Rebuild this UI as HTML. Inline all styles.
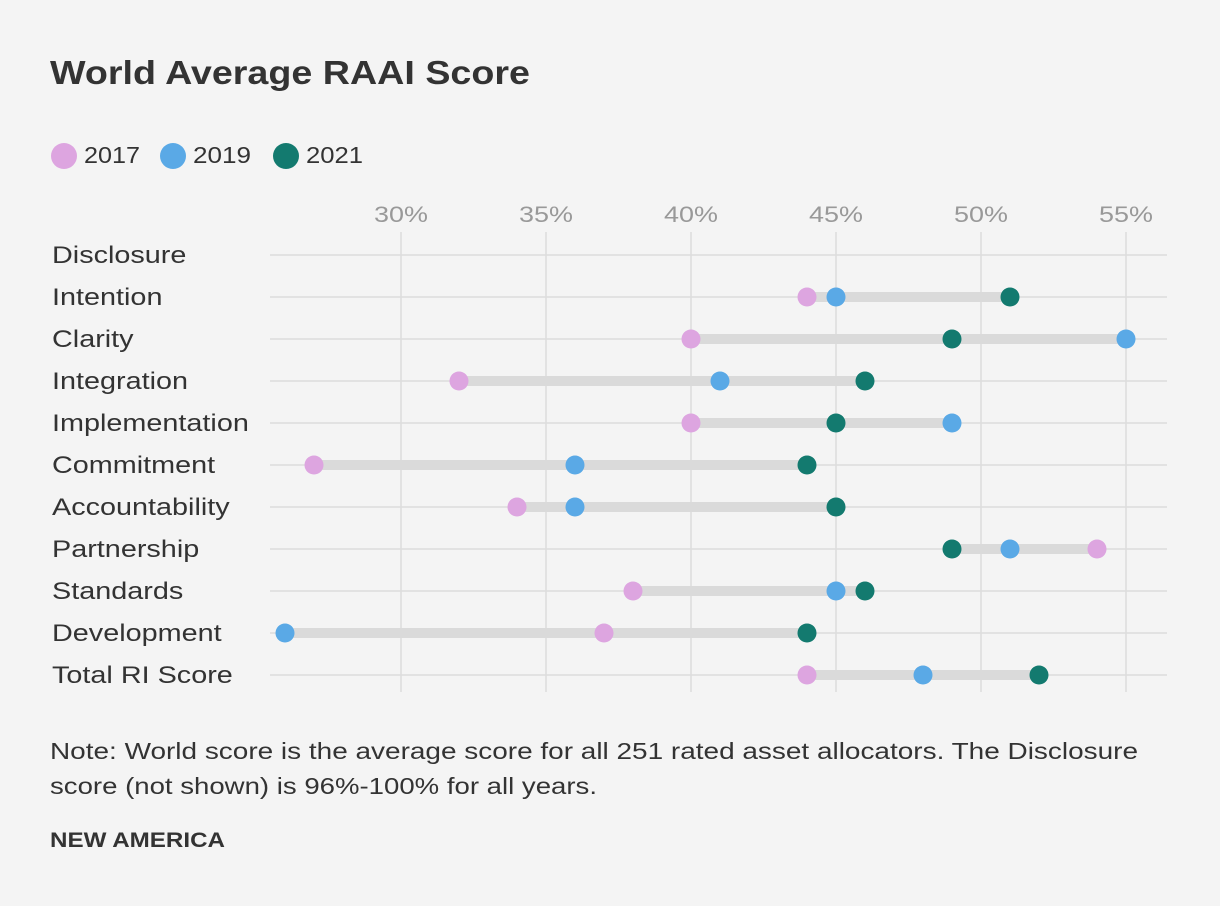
<!DOCTYPE html>
<html><head><meta charset="utf-8"><style>
html,body{margin:0;padding:0;background:#f4f4f4;}
svg{display:block;font-family:"Liberation Sans",sans-serif;}
</style></head><body>
<svg id="chart" width="1220" height="906" viewBox="0 0 1220 906">
<rect width="1220" height="906" fill="#f4f4f4"/>
<text x="50" y="84" font-size="33" font-weight="bold" fill="#333" textLength="480" lengthAdjust="spacingAndGlyphs">World Average RAAI Score</text>
<g>
<g><circle cx="64" cy="156" r="13" fill="#dda5e0"/><text x="84" y="163" font-size="23" fill="#333" textLength="56" lengthAdjust="spacingAndGlyphs">2017</text></g>
<g><circle cx="173" cy="156" r="13" fill="#5aa9e6"/><text x="193" y="163" font-size="23" fill="#333" textLength="58" lengthAdjust="spacingAndGlyphs">2019</text></g>
<g><circle cx="286" cy="156" r="13" fill="#137a6f"/><text x="306" y="163" font-size="23" fill="#333" textLength="57" lengthAdjust="spacingAndGlyphs">2021</text></g>
</g>
<g id="grid"></g><g id="marks"></g>
<text x="50" y="759" font-size="23" fill="#333" textLength="1088" lengthAdjust="spacingAndGlyphs">Note: World score is the average score for all 251 rated asset allocators. The Disclosure</text>
<text x="50" y="794" font-size="23" fill="#333" textLength="547" lengthAdjust="spacingAndGlyphs">score (not shown) is 96%-100% for all years.</text>
<text x="50" y="847" font-size="21" font-weight="bold" fill="#333" textLength="175" lengthAdjust="spacingAndGlyphs">NEW AMERICA</text>
</svg>
<script>
const categories=["Disclosure","Intention","Clarity","Integration","Implementation","Commitment","Accountability","Partnership","Standards","Development","Total RI Score"];
const values2017=[null,44,40,32,40,27,34,54,38,37,44];
const values2019=[null,45,55,41,49,36,36,51,45,26,48];
const values2021=[null,51,49,46,45,44,45,49,46,44,52];
const ticks=[30,35,40,45,50,55];
const NS="http://www.w3.org/2000/svg";
const x=v=>401+(v-30)*29;
const y=i=>255+i*42;
function mk(tag,attrs,parent){const e=document.createElementNS(NS,tag);for(const k in attrs)e.setAttribute(k,attrs[k]);parent.appendChild(e);return e;}
const grid=document.getElementById('grid'),marks=document.getElementById('marks');
ticks.forEach(t=>{
 const l=mk('line',{x1:x(t),x2:x(t),y1:232,y2:692,stroke:'#dcdcdc','stroke-width':1.5},grid);
 
 
 const tx=mk('text',{x:x(t),y:222,'text-anchor':'middle','font-size':22,fill:'#999',textLength:54,lengthAdjust:'spacingAndGlyphs'},grid);
 tx.textContent=t+'%';
 
 
});
categories.forEach((c,i)=>{
 const l=mk('line',{x1:270,x2:1167,y1:y(i),y2:y(i),stroke:'#dcdcdc','stroke-width':1.5},grid);
 
 
 const tx=mk('text',{x:0,y:0,'font-size':24,fill:'#333',transform:'translate(52,'+(y(i)+8)+') scale(1.2,1)'},grid);
 tx.textContent=c;
 
 
 const vs=[values2017[i],values2019[i],values2021[i]];
 if(vs[0]==null)return;
 const mn=Math.min(...vs),mx=Math.max(...vs);
 const b=mk('line',{x1:x(mn),x2:x(mx),y1:y(i),y2:y(i),stroke:'#dadada','stroke-width':10},marks);
 
 
 [['#dda5e0','2017'],['#5aa9e6','2019'],['#137a6f','2021']].forEach((s,k)=>{
  const d=mk('circle',{cx:x(vs[k]),cy:y(i),r:9.5,fill:s[0]},marks);
  
  
 });
});
</script>
</body></html>
